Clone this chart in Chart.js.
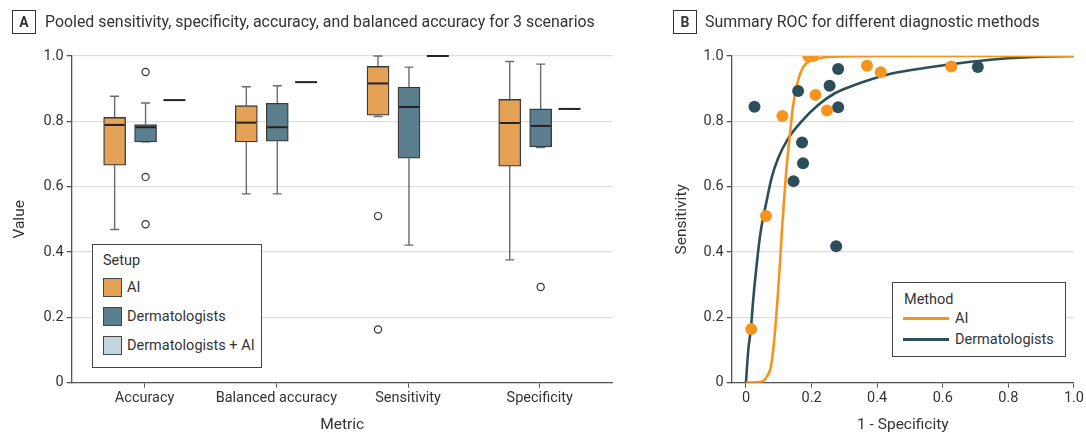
<!DOCTYPE html>
<html>
<head>
<meta charset="utf-8">
<script src="https://cdn.jsdelivr.net/npm/chart.js@4"></script>
<style>
  body { margin: 0; background: #fff; font-family: Roboto, sans-serif; color: #333; }
  #page { position: relative; width: 1086px; height: 434px; overflow: hidden; }
  .panel { position: absolute; top: 0; height: 434px; }
  .tag { position: absolute; top: 10px; width: 22px; height: 22px; border: 1px solid #333; font-weight: bold; font-size: 14px; line-height: 22px; text-align: center; }
  .title { position: absolute; top: 11px; font-size: 15.9px; line-height: 22px; white-space: nowrap; }
  .legend { position: absolute; border: 1px solid #444; background: #fff; font-size: 14.5px; }
  .legend .head { position: absolute; left: 10px; white-space: nowrap; }
  .legend .row { position: absolute; left: 10px; white-space: nowrap; }
  .swatch { position: absolute; width: 17px; height: 17px; border: 1px solid #444; }
  .ln { position: absolute; height: 3px; width: 46px; }
</style>
</head>
<body>
<div id="page">
  <div class="panel" style="left:0;width:640px"><canvas id="box-chart" width="640" height="434"></canvas></div>
  <div class="panel" style="left:640px;width:446px"><canvas id="roc-chart" width="446" height="434"></canvas></div>

  <div class="tag" style="left:12px">A</div>
  <div class="title" style="left:45px">Pooled sensitivity, specificity, accuracy, and balanced accuracy for 3 scenarios</div>
  <div class="tag" style="left:673px">B</div>
  <div class="title" style="left:705px">Summary ROC for different diagnostic methods</div>

  <div class="legend" style="left:92px;top:244px;width:168px;height:122px">
    <div class="head" style="top:7px">Setup</div>
    <div class="swatch" style="left:10px;top:33px;background:#e4a256"></div>
    <div class="row" style="left:34px;top:34px">AI</div>
    <div class="swatch" style="left:10px;top:62px;background:#5b7f8f"></div>
    <div class="row" style="left:34px;top:63px">Dermatologists</div>
    <div class="swatch" style="left:10px;top:91px;background:#c2d4dc"></div>
    <div class="row" style="left:34px;top:92px">Dermatologists + AI</div>
  </div>

  <div class="legend" style="left:892px;top:282px;width:172px;height:73px">
    <div class="head" style="left:11px;top:8px">Method</div>
    <div class="ln" style="left:10px;top:34px;background:#f7941d"></div>
    <div class="row" style="left:62px;top:27px">AI</div>
    <div class="ln" style="left:10px;top:55px;background:#2c4e5a"></div>
    <div class="row" style="left:62px;top:48px">Dermatologists</div>
  </div>
</div>

<script>
// panel A: box plot summaries
const categories = ["Accuracy", "Balanced accuracy", "Sensitivity", "Specificity"];
const setups = ["AI", "Dermatologists", "Dermatologists + AI"];

const aiMin = [0.469, 0.578, 0.815, 0.376];
const aiQ1 = [0.666, 0.737, 0.819, 0.663];
const aiMedian = [0.789, 0.796, 0.916, 0.795];
const aiQ3 = [0.812, 0.848, 0.968, 0.867];
const aiMax = [0.877, 0.906, 1.0, 0.983];
const aiOutliers = [[], [], [0.51, 0.163], []];

const dermMin = [0.737, 0.578, 0.421, 0.72];
const dermQ1 = [0.737, 0.739, 0.687, 0.722];
const dermMedian = [0.782, 0.782, 0.844, 0.786];
const dermQ3 = [0.79, 0.855, 0.905, 0.838];
const dermMax = [0.856, 0.909, 0.966, 0.975];
const dermOutliers = [[0.951, 0.63, 0.485], [], [], [0.293]];

const dermAiValue = [0.865, 0.92, 1.0, 0.838];

const valueTicks = [0, 0.2, 0.4, 0.6, 0.8, 1.0];

// panel B: study points and SROC curves
const aiPoints = [
  [0.19, 1.0], [0.205, 1.0], [0.111, 0.816], [0.212, 0.881], [0.247, 0.833],
  [0.369, 0.97], [0.411, 0.95], [0.626, 0.968], [0.061, 0.51], [0.016, 0.164]
];
const dermPoints = [
  [0.026, 0.845], [0.159, 0.893], [0.281, 0.96], [0.255, 0.909], [0.281, 0.843],
  [0.171, 0.735], [0.174, 0.672], [0.145, 0.617], [0.707, 0.966], [0.275, 0.418]
];
const aiCurve = [
  [0, 0], [0.048, 0.003], [0.063, 0.018], [0.076, 0.049], [0.088, 0.151], [0.096, 0.253],
  [0.103, 0.355], [0.109, 0.457], [0.114, 0.53], [0.123, 0.65], [0.134, 0.76], [0.144, 0.85],
  [0.154, 0.905], [0.164, 0.942], [0.174, 0.965], [0.184, 0.978], [0.22, 0.993],
  [0.291, 0.999], [0.5, 1.0], [1.0, 1.0]
];
const dermCurve = [
  [0, 0], [0.007, 0.1], [0.015, 0.165], [0.022, 0.253], [0.032, 0.355], [0.044, 0.457],
  [0.063, 0.556], [0.078, 0.626], [0.098, 0.687], [0.129, 0.748], [0.169, 0.799],
  [0.22, 0.85], [0.271, 0.886], [0.331, 0.911], [0.392, 0.932], [0.448, 0.947],
  [0.549, 0.964], [0.65, 0.978], [0.772, 0.991], [0.894, 0.998], [1.0, 1.0]
];
const rocTicks = [0, 0.2, 0.4, 0.6, 0.8, 1.0];

const AI_BOX = "#e4a256";
const DERM_BOX = "#5b7f8f";
const AI_LINE = "#f7941d";
const DERM_LINE = "#2c4e5a";
const INK = "#333";

Chart.defaults.font.family = "Roboto, sans-serif";
Chart.defaults.font.size = 14.5;
Chart.defaults.color = INK;

// horizontal shift of each setup inside a metric group (category units)
const offsets = [-0.228, 0.007, 0.226];

const fmt = (v) => (v === 0 ? "0" : v.toFixed(1));

const boxes = (q1, q3, k) => q1.map((v, i) => ({ x: i + offsets[k], y: [v, q3[i]] }));
const outlierPoints = (list, k) =>
  list.flatMap((vals, i) => vals.map((v) => ({ x: i + offsets[k], y: v })));

const summaries = [
  { min: aiMin, q1: aiQ1, med: aiMedian, q3: aiQ3, max: aiMax },
  { min: dermMin, q1: dermQ1, med: dermMedian, q3: dermQ3, max: dermMax }
];

const whiskerPlugin = {
  id: "whiskers",
  beforeDatasetsDraw(chart) {
    const { ctx, scales } = chart;
    ctx.save();
    ctx.strokeStyle = "#6b6b6b";
    ctx.lineWidth = 1.4;
    summaries.forEach((s, k) => {
      categories.forEach((c, i) => {
        const x = scales.x.getPixelForValue(i + offsets[k]);
        const segs = [[s.q3[i], s.max[i]], [s.q1[i], s.min[i]]];
        segs.forEach(([from, to]) => {
          const y0 = scales.y.getPixelForValue(from);
          const y1 = scales.y.getPixelForValue(to);
          ctx.beginPath();
          ctx.moveTo(x, y0);
          ctx.lineTo(x, y1);
          ctx.moveTo(x - 4.5, y1);
          ctx.lineTo(x + 4.5, y1);
          ctx.stroke();
        });
      });
    });
    ctx.restore();
  },
  afterDatasetsDraw(chart) {
    const { ctx, scales } = chart;
    ctx.save();
    ctx.strokeStyle = "#222";
    ctx.lineWidth = 2;
    const half = 11;
    summaries.forEach((s, k) => {
      s.med.forEach((v, i) => {
        const x = scales.x.getPixelForValue(i + offsets[k]);
        const y = scales.y.getPixelForValue(v);
        ctx.beginPath();
        ctx.moveTo(x - half + 1, y);
        ctx.lineTo(x + half - 1, y);
        ctx.stroke();
      });
    });
    dermAiValue.forEach((v, i) => {
      const x = scales.x.getPixelForValue(i + offsets[2]);
      const y = scales.y.getPixelForValue(v);
      ctx.beginPath();
      ctx.moveTo(x - half, y);
      ctx.lineTo(x + half, y);
      ctx.stroke();
    });
    ctx.restore();
  }
};

const boxChart = new Chart(document.getElementById("box-chart"), {
  type: "bar",
  data: {
    datasets: [
      {
        type: "scatter",
        label: "outliers",
        data: [...outlierPoints(aiOutliers, 0), ...outlierPoints(dermOutliers, 1)],
        pointRadius: 3.6,
        pointBackgroundColor: "#fff",
        pointBorderColor: "#333",
        pointBorderWidth: 1.2
      },
      {
        label: setups[0],
        data: boxes(aiQ1, aiQ3, 0),
        backgroundColor: AI_BOX,
        borderColor: "#3a3a3a",
        borderWidth: 1.3,
        borderSkipped: false,
        barThickness: 22,
        grouped: false
      },
      {
        label: setups[1],
        data: boxes(dermQ1, dermQ3, 1),
        backgroundColor: DERM_BOX,
        borderColor: "#3a3a3a",
        borderWidth: 1.3,
        borderSkipped: false,
        barThickness: 22,
        grouped: false
      }
    ]
  },
  options: {
    responsive: false,
    animation: false,
    layout: { padding: { top: 56, right: 27.3, left: 0, bottom: 0 } },
    plugins: { legend: { display: false }, tooltip: { enabled: false } },
    scales: {
      x: {
        type: "linear",
        offset: false,
        min: -0.554,
        max: 3.554,
        afterBuildTicks: (s) => { s.ticks = categories.map((c, i) => ({ value: i })); },
        afterFit: (s) => { s.height = 51.3; },
        ticks: { callback: (v) => categories[v], padding: 2, maxRotation: 0 },
        grid: { offset: false, drawOnChartArea: false, tickLength: 5, tickColor: "#555" },
        border: { color: "#555", width: 1.3 },
        title: { display: true, text: "Metric", font: { size: 15.5 }, padding: { top: 0, bottom: 0 } }
      },
      y: {
        min: 0,
        max: 1,
        afterBuildTicks: (s) => { s.ticks = valueTicks.map((v) => ({ value: v })); },
        afterFit: (s) => { s.width = 71.7; },
        ticks: { callback: fmt, padding: 3 },
        grid: { color: "#dedede", lineWidth: 1.3, tickLength: 5, tickColor: "#555" },
        border: { color: "#555", width: 1.3 },
        title: { display: true, text: "Value", font: { size: 15.5 }, padding: { top: 11, bottom: 0 } }
      }
    }
  },
  plugins: [whiskerPlugin]
});

const toXY = (arr) => arr.map(([x, y]) => ({ x, y }));

const rocChart = new Chart(document.getElementById("roc-chart"), {
  type: "scatter",
  data: {
    datasets: [
      {
        label: "AI studies",
        data: toXY(aiPoints),
        pointRadius: 6,
        pointBackgroundColor: AI_LINE,
        pointBorderWidth: 0
      },
      {
        label: "Dermatologist studies",
        data: toXY(dermPoints),
        pointRadius: 6,
        pointBackgroundColor: DERM_LINE,
        pointBorderWidth: 0
      },
      {
        type: "line",
        label: "AI",
        data: toXY(aiCurve),
        borderColor: AI_LINE,
        borderWidth: 2.6,
        pointRadius: 0,
        cubicInterpolationMode: "monotone"
      },
      {
        type: "line",
        label: "Dermatologists",
        data: toXY(dermCurve),
        borderColor: DERM_LINE,
        borderWidth: 2.6,
        pointRadius: 0,
        cubicInterpolationMode: "monotone"
      }
    ]
  },
  options: {
    responsive: false,
    animation: false,
    layout: { padding: { top: 56, right: 11, left: 0, bottom: 0 } },
    plugins: { legend: { display: false }, tooltip: { enabled: false } },
    scales: {
      x: {
        type: "linear",
        min: -0.0435,
        max: 1,
        afterBuildTicks: (s) => { s.ticks = rocTicks.map((v) => ({ value: v })); },
        afterFit: (s) => { s.height = 51.3; },
        ticks: { callback: fmt, padding: 2, maxRotation: 0 },
        grid: { drawOnChartArea: false, tickLength: 5, tickColor: "#555" },
        border: { color: "#555", width: 1.3 },
        title: { display: true, text: "1 - Specificity", font: { size: 15.5 }, padding: { top: 0, bottom: 0 } }
      },
      y: {
        min: 0,
        max: 1,
        afterBuildTicks: (s) => { s.ticks = rocTicks.map((v) => ({ value: v })); },
        afterFit: (s) => { s.width = 91.7; },
        ticks: { callback: fmt, padding: 3 },
        grid: { color: "#dedede", lineWidth: 1.3, tickLength: 5, tickColor: "#555" },
        border: { color: "#555", width: 1.3 },
        title: { display: true, text: "Sensitivity", font: { size: 15.5 }, padding: { top: 33, bottom: 0 } }
      }
    }
  }
});
</script>
</body>
</html>
